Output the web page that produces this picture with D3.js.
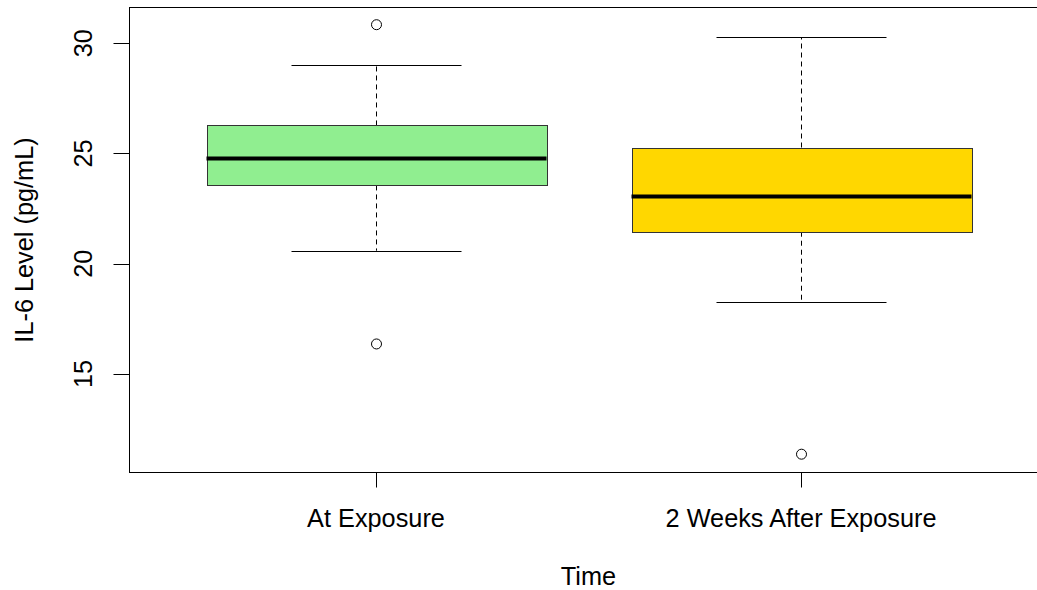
<!DOCTYPE html>
<html>
<head>
<meta charset="utf-8">
<script src="https://cdn.jsdelivr.net/npm/d3@7"></script>
<style>
  html, body { margin: 0; padding: 0; background: #fff; }
  svg { display: block; }
  text { font-family: "Liberation Sans", Arial, sans-serif; fill: #000; }
</style>
</head>
<body>
<svg id="chart" width="1037" height="590"></svg>
<script>
// ---- data ----
const categories = ["At Exposure", "2 Weeks After Exposure"];
const q1Values = [23.55, 21.45];
const medianValues = [24.77, 23.05];
const q3Values = [26.27, 25.27];
const whiskerLow = [20.59, 18.28];
const whiskerHigh = [29.0, 30.27];
const outlierValues = [[30.84, 16.36], [11.36]];
const boxColors = ["#90EE90", "#FFD700"];
const yTicks = [15, 20, 25, 30];
const yLabel = "IL-6 Level (pg/mL)";
const xLabel = "Time";

// ---- layout ----
const svg = d3.select("#chart");
const plot = { left: 129.5, top: 7.5, right: 1047.5, bottom: 472.5 };
const fs = 25.3;

const x = d3.scaleLinear().domain([0.42, 2.58]).range([plot.left, plot.right]);
const y = d3.scaleLinear().domain([10.53, 31.62]).range([plot.bottom, plot.top]);

const unit = x(2) - x(1);
const boxW = 0.8 * unit;
const capW = boxW / 2;

const data = categories.map((c, i) => ({
  cat: c, idx: i + 1,
  q1: q1Values[i], med: medianValues[i], q3: q3Values[i],
  lo: whiskerLow[i], hi: whiskerHigh[i],
  out: outlierValues[i], color: boxColors[i]
}));

const g = svg.append("g");

data.forEach(d => {
  const cx = Math.round(x(d.idx)) + 0.5;
  // whiskers (dashed)
  g.append("line").attr("x1", cx).attr("x2", cx).attr("y1", y(d.q3)).attr("y2", y(d.hi))
    .attr("stroke", "#000").attr("stroke-width", 1).attr("stroke-dasharray", "5,4");
  g.append("line").attr("x1", cx).attr("x2", cx).attr("y1", y(d.q1)).attr("y2", y(d.lo))
    .attr("stroke", "#000").attr("stroke-width", 1).attr("stroke-dasharray", "5,4");
  // caps
  [d.hi, d.lo].forEach(v => {
    g.append("line").attr("x1", cx - capW / 2).attr("x2", cx + capW / 2)
      .attr("y1", Math.round(y(v)) + 0.5).attr("y2", Math.round(y(v)) + 0.5)
      .attr("stroke", "#000").attr("stroke-width", 1);
  });
  // box
  g.append("rect")
    .attr("x", Math.round(cx - boxW / 2) + 0.5).attr("width", Math.round(boxW))
    .attr("y", Math.round(y(d.q3)) + 0.5).attr("height", Math.round(y(d.q1)) - Math.round(y(d.q3)))
    .attr("fill", d.color).attr("stroke", "#333").attr("stroke-width", 1);
  // median
  g.append("line").attr("x1", cx - boxW / 2).attr("x2", cx + boxW / 2)
    .attr("y1", y(d.med)).attr("y2", y(d.med))
    .attr("stroke", "#000").attr("stroke-width", 4);
  // outliers
  d.out.forEach(v => {
    g.append("circle").attr("cx", cx).attr("cy", y(v)).attr("r", 5)
      .attr("fill", "none").attr("stroke", "#000").attr("stroke-width", 1);
  });
});

// frame
svg.append("rect")
  .attr("x", plot.left).attr("y", plot.top)
  .attr("width", plot.right - plot.left).attr("height", plot.bottom - plot.top)
  .attr("fill", "none").attr("stroke", "#000").attr("stroke-width", 1);

// y axis ticks
const yAxis = svg.append("g");
yTicks.forEach(t => {
  const py = Math.round(y(t)) + 0.5;
  yAxis.append("line").attr("x1", plot.left - 16).attr("x2", plot.left)
    .attr("y1", py).attr("y2", py).attr("stroke", "#000").attr("stroke-width", 1);
  yAxis.append("text")
    .attr("transform", `translate(92,${y(t)}) rotate(-90)`)
    .attr("text-anchor", "middle")
    .attr("font-size", fs)
    .text(t);
});

// x axis ticks
const xAxis = svg.append("g");
data.forEach(d => {
  const px = Math.round(x(d.idx)) + 0.5;
  xAxis.append("line").attr("x1", px).attr("x2", px)
    .attr("y1", plot.bottom).attr("y2", plot.bottom + 15)
    .attr("stroke", "#000").attr("stroke-width", 1);
  xAxis.append("text")
    .attr("x", x(d.idx)).attr("y", 527)
    .attr("text-anchor", "middle")
    .attr("font-size", fs)
    .text(d.cat);
});

// axis titles
svg.append("text")
  .attr("x", (plot.left + plot.right) / 2).attr("y", 585)
  .attr("text-anchor", "middle").attr("font-size", fs)
  .text(xLabel);

svg.append("text")
  .attr("transform", `translate(33,${(plot.top + plot.bottom) / 2}) rotate(-90)`)
  .attr("text-anchor", "middle").attr("font-size", fs)
  .text(yLabel);
</script>
</body>
</html>
